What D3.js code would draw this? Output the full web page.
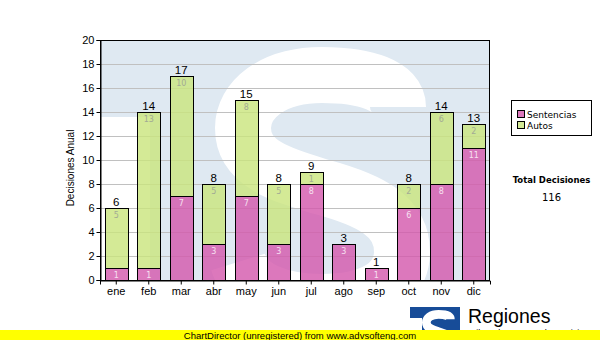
<!DOCTYPE html>
<html><head><meta charset="utf-8">
<script src="https://cdn.jsdelivr.net/npm/d3@7"></script>
<style>html,body{margin:0;padding:0;background:#fff;}svg{display:block;}</style>
</head><body>
<svg id="chart" width="600" height="340"></svg>
<script>
const months = ["ene","feb","mar","abr","may","jun","jul","ago","sep","oct","nov","dic"];
const sentencias = [1,1,7,3,7,3,8,3,1,6,8,11];
const autos = [5,13,10,5,8,5,1,0,0,2,6,2];
const seriesNames = ["Sentencias","Autos"];
const yTicks = [0,2,4,6,8,10,12,14,16,18,20];
const totalLabel = "Total Decisiones";
const totalValue = 116;

const svg = d3.select("#chart");
const L = 100, R = 490, T = 40, B = 280;
const pinkFill = "#d356ab", greenFill = "#c9e57c";
// S logo shape (centre line, drawn as thick stroke)
const sPath = "M398,107 C398,86 366,75 322,75 C272,75 243,100 243,128 C243,165 285,176 322,187 C370,200 402,216 402,252 C402,285 370,302 322,302 C278,302 246,288 238,262";

const x = d3.scaleBand().domain(months).range([L, R]).paddingInner(0.28).paddingOuter(0.14);
const y = d3.scaleLinear().domain([0, 20]).range([B, T]);

const defs = svg.append("defs");
defs.append("clipPath").attr("id","plotclip").append("rect")
  .attr("x", L).attr("y", T).attr("width", R-L).attr("height", B-T);
defs.append("clipPath").attr("id","logoclip").append("path")
  .attr("d","M410,307H460V340H422V318H410Z");

// background watermark
const bg = svg.append("g").attr("clip-path","url(#plotclip)");
bg.append("rect").attr("x",L).attr("y",T).attr("width",R-L).attr("height",B-T).attr("fill","#dfe9f2");
bg.append("rect").attr("x",L).attr("y",117).attr("width",50).attr("height",B-117).attr("fill","#fff");
bg.append("path").attr("d", sPath).attr("fill","none").attr("stroke","#fff")
  .attr("stroke-width",56).attr("stroke-linecap","butt");

// gridlines
svg.append("g").selectAll("line").data(yTicks.filter(d => d > 0 && d < 20)).join("line")
  .attr("x1", L).attr("x2", R).attr("y1", d => y(d)+0.5).attr("y2", d => y(d)+0.5)
  .attr("stroke","#c0c0c0").attr("stroke-width",1);

// stacked data
const data = months.map((m,i) => ({m, s: sentencias[i], a: autos[i]}));
const stack = d3.stack().keys(["s","a"])(data);
const fills = [pinkFill, greenFill];

const bars = svg.append("g");
stack.forEach((layer, li) => {
  bars.selectAll(null).data(layer.filter(d => d[1]-d[0] > 0)).join("rect")
    .attr("x", d => Math.round(x(d.data.m))+0.5)
    .attr("y", d => y(d[1])+0.5)
    .attr("width", Math.round(x.bandwidth()))
    .attr("height", d => y(d[0]) - y(d[1]))
    .attr("fill", fills[li]).attr("fill-opacity", 0.8)
    .attr("stroke","#000").attr("stroke-width",1);
});
// segment labels
stack.forEach((layer, li) => {
  svg.append("g").selectAll("text").data(layer.filter(d => d[1]-d[0] > 0)).join("text")
    .attr("x", d => x(d.data.m) + x.bandwidth()/2)
    .attr("y", d => y(d[1]) + 9.5)
    .attr("text-anchor","middle")
    .attr("font-family","DejaVu Sans, sans-serif").attr("font-size",8)
    .attr("fill", li === 0 ? "#f6e0f0" : "#a2aa94")
    .text(d => d[1]-d[0]);
});
// totals
svg.append("g").selectAll("text").data(data).join("text")
  .attr("x", d => x(d.m) + x.bandwidth()/2)
  .attr("y", d => y(d.s + d.a) - 2)
  .attr("text-anchor","middle")
  .attr("font-family","Liberation Sans, Arial, sans-serif").attr("font-size",11.5)
  .attr("fill","#000").text(d => d.s + d.a);

// plot border
svg.append("rect").attr("x",L+0.5).attr("y",T+0.5).attr("width",R-L-1).attr("height",B-T)
  .attr("fill","none").attr("stroke","#000").attr("stroke-width",1);

// axes
const yAxis = d3.axisLeft(y).tickValues(yTicks).tickSize(4).tickPadding(2);
const gy = svg.append("g").attr("transform",`translate(${L+0.5},0)`).call(yAxis);
const xAxis = d3.axisBottom(x).tickSize(4).tickPadding(3);
const gx = svg.append("g").attr("transform",`translate(0,${B+0.5})`).call(xAxis);
[gy,gx].forEach(g => {
  g.select(".domain").attr("stroke","#000");
  g.selectAll(".tick line").attr("stroke","#000");
  g.selectAll(".tick text").attr("font-family","Liberation Sans, Arial, sans-serif")
    .attr("font-size",11).attr("fill","#000");
});

svg.append("text").attr("transform","translate(74,168) rotate(-90)")
  .attr("text-anchor","middle").attr("font-family","Liberation Sans, Arial, sans-serif")
  .attr("font-size",10).attr("fill","#000").text("Decisiones Anual");

// legend
const lg = svg.append("g");
lg.append("rect").attr("x",511.5).attr("y",100.5).attr("width",80).attr("height",35)
  .attr("fill","#fff").attr("stroke","#000");
seriesNames.forEach((n,i) => {
  lg.append("rect").attr("x",517.5).attr("y",110.5 + i*11).attr("width",7).attr("height",7)
    .attr("fill", fills[i]).attr("fill-opacity",0.8).attr("stroke","#000");
  lg.append("text").attr("x",527).attr("y",117.5 + i*11)
    .attr("font-family","DejaVu Sans, sans-serif").attr("font-size",9).attr("fill","#000").text(n);
});
svg.append("text").attr("x",551.5).attr("y",183).attr("text-anchor","middle")
  .attr("font-family","DejaVu Sans, sans-serif").attr("font-weight","bold").attr("font-size",8.5)
  .attr("fill","#000").text(totalLabel);
svg.append("text").attr("x",551.5).attr("y",201).attr("text-anchor","middle")
  .attr("font-family","DejaVu Sans, sans-serif").attr("font-size",10)
  .attr("fill","#000").text(totalValue);

// bottom logo
svg.append("path").attr("d","M410,307H460V340H422V318H410Z").attr("fill","#174c98");
const s = 0.155;
svg.append("g").attr("clip-path","url(#logoclip)")
  .append("path").attr("d", sPath)
  .attr("transform",`translate(${422 - 215*s},${310 - 47*s}) scale(${s})`)
  .attr("fill","none").attr("stroke","#fff").attr("stroke-width",56);
svg.append("text").attr("x",468).attr("y",323)
  .attr("font-family","Liberation Sans, Arial, sans-serif").attr("font-size",19.5)
  .attr("fill","#000").text("Regiones");
svg.append("text").attr("x",468).attr("y",336)
  .attr("font-family","Liberation Sans, Arial, sans-serif").attr("font-size",9)
  .attr("fill","#000").text("Tribunal Supremo de Justicia");

// unregistered banner
svg.append("rect").attr("x",0).attr("y",330).attr("width",600).attr("height",10).attr("fill","#ffff00");
svg.append("text").attr("x",300).attr("y",338.5).attr("text-anchor","middle")
  .attr("font-family","Liberation Sans, Arial, sans-serif").attr("font-size",9.5)
  .attr("fill","#000").text("ChartDirector (unregistered) from www.advsofteng.com");
</script>
</body></html>
